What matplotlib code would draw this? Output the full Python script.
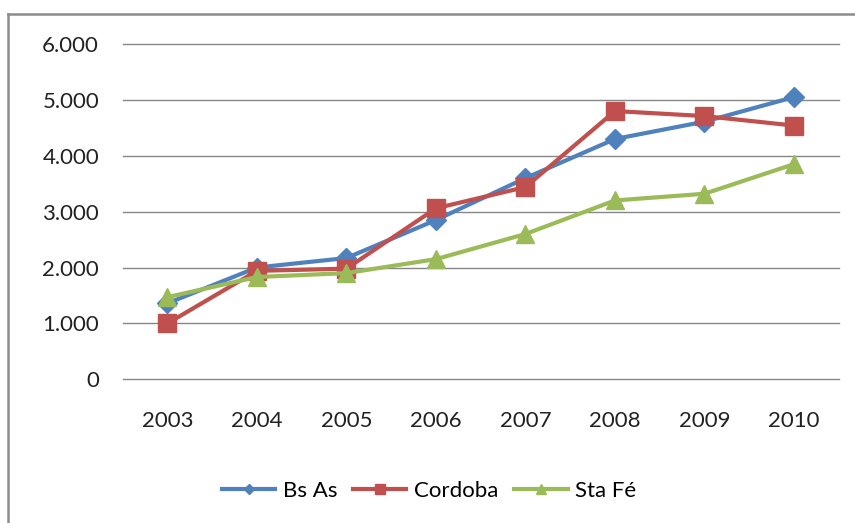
import matplotlib.pyplot as plt
from matplotlib.lines import Line2D

years = ["2003", "2004", "2005", "2006", "2007", "2008", "2009", "2010"]
bs_as = [1360, 2000, 2170, 2850, 3600, 4300, 4610, 5050]
cordoba = [1000, 1940, 1980, 3060, 3440, 4800, 4710, 4540]
sta_fe = [1470, 1830, 1900, 2150, 2600, 3200, 3320, 3850]
y_ticks = [0, 1000, 2000, 3000, 4000, 5000, 6000]
y_labels = ["0", "1.000", "2.000", "3.000", "4.000", "5.000", "6.000"]

plt.rcParams['font.family'] = ['Lato', 'DejaVu Sans']

fig = plt.figure(figsize=(8.55, 5.23), dpi=100)
ax = fig.add_axes([0.1435, 0.2748, 0.8375, 0.6411])

x = range(len(years))
ax.plot(x, bs_as, color='#4F81BD', lw=3, marker='D', ms=10, label='Bs As')
ax.plot(x, cordoba, color='#C0504D', lw=3, marker='s', ms=12.5, label='Cordoba')
ax.plot(x, sta_fe, color='#9BBB59', lw=3, marker='^', ms=13, label='Sta Fé')

ax.set_xlim(-0.5, 7.5)
ax.set_ylim(0, 6000)
ax.set_xticks(list(x))
ax.set_xticklabels(years)
ax.set_yticks(y_ticks)
ax.set_yticklabels(y_labels)
ax.tick_params(axis='y', length=0, pad=17, labelsize=16, labelcolor='#222222')
ax.tick_params(axis='x', length=0, pad=23, labelsize=16, labelcolor='#222222')
ax.grid(axis='y', color='#868686', lw=1)
for gl in ax.get_ygridlines():
    gl.set_clip_on(False)
ax.set_axisbelow(True)
for s in ax.spines.values():
    s.set_visible(False)

fig.legend(loc='center', bbox_to_anchor=(0.502, 0.061), ncol=3, frameon=False,
           fontsize=16, handlelength=2.4, handletextpad=0.35, columnspacing=0.7,
           markerscale=0.55)

# outer chart frame (cropped at right and bottom)
fx = 8 / 855
fy = 1 - 14 / 523
fig.add_artist(Line2D([fx, fx], [0, fy], transform=fig.transFigure, color='#8c8c8c', lw=1.8))
fig.add_artist(Line2D([fx, 1], [fy, fy], transform=fig.transFigure, color='#8c8c8c', lw=1.8))

fig.savefig('out.png', dpi=100)
